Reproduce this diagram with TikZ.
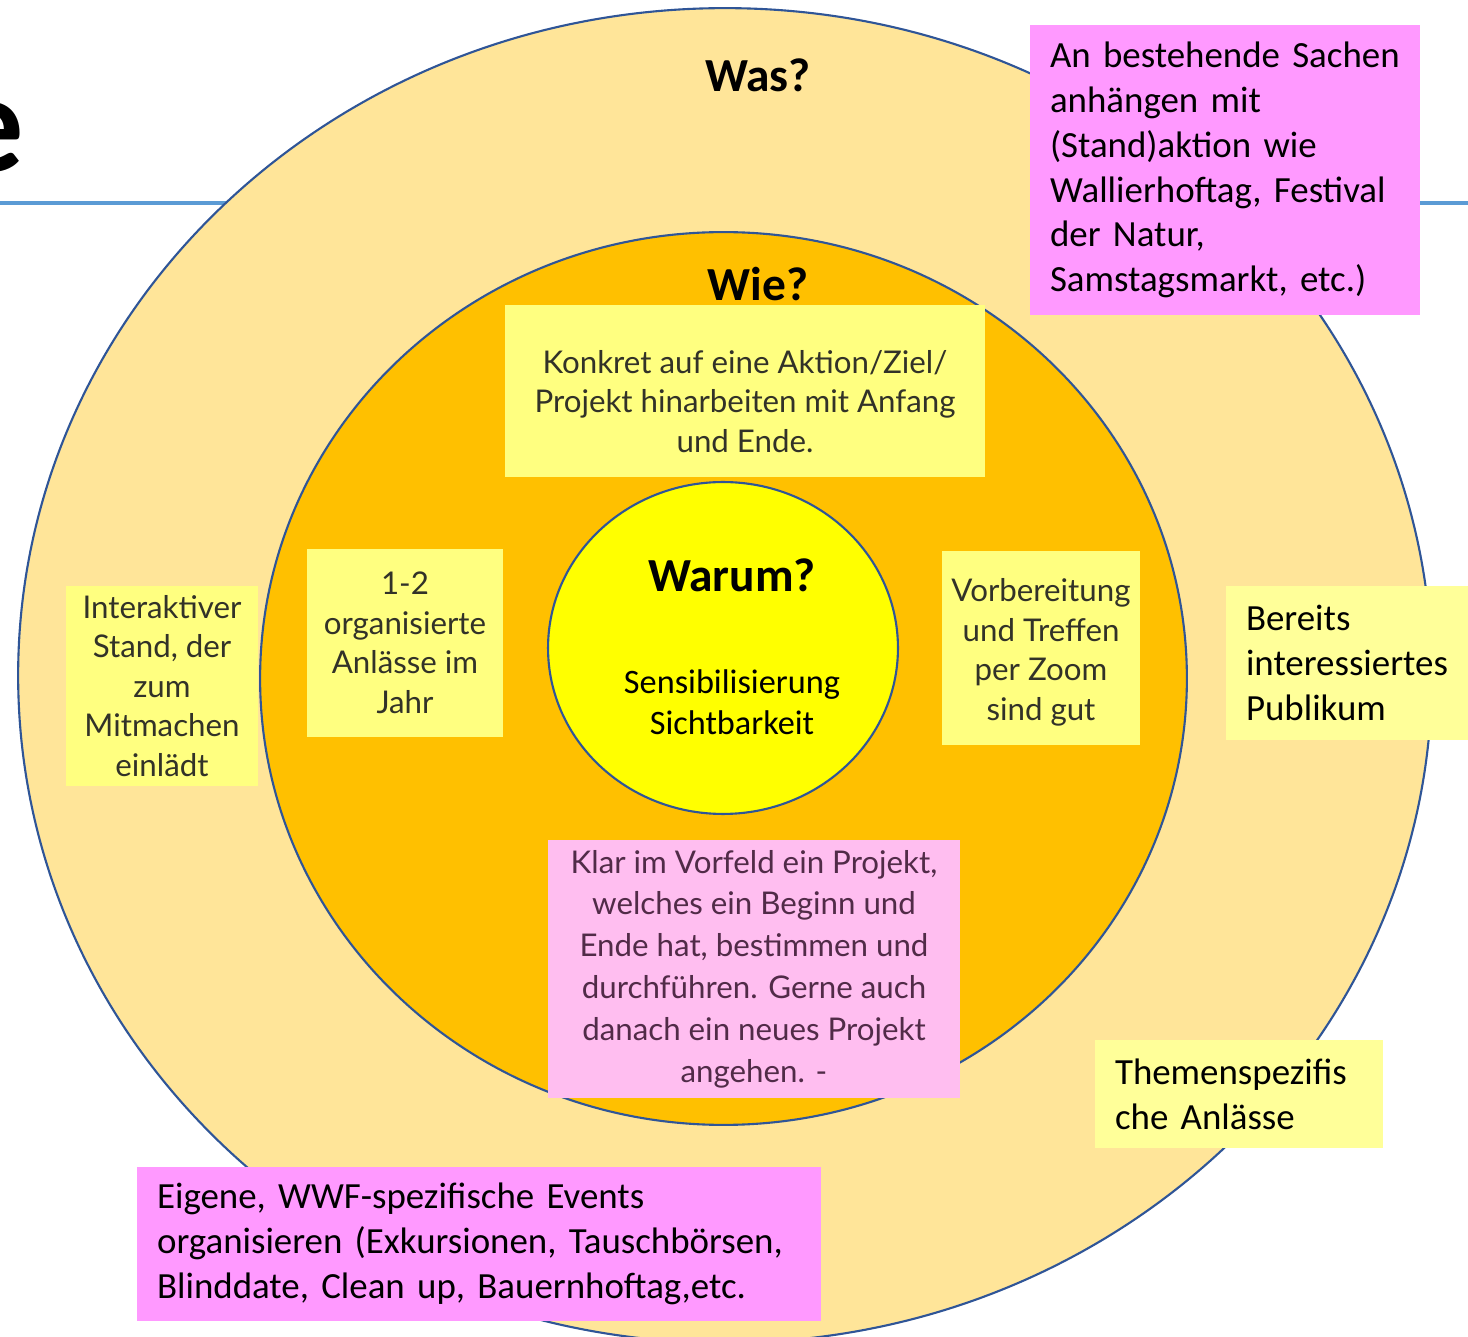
\documentclass[tikz,border=0pt]{standalone}
\usepackage{fontspec}
\setmainfont{Carlito}
\newfontfamily\stickyfont{Lato}
\definecolor{ringline}{RGB}{47,85,151}
\definecolor{outerfill}{RGB}{255,229,153}
\definecolor{middlefill}{RGB}{255,192,0}
\definecolor{innerfill}{RGB}{255,255,0}
\definecolor{titleline}{RGB}{91,155,213}
\definecolor{notepink}{RGB}{255,153,255}
\definecolor{noteyellow}{RGB}{255,255,153}
\definecolor{stickyyellow}{RGB}{255,255,128}
\definecolor{stickypink}{RGB}{255,190,240}
\definecolor{stickyink}{RGB}{50,50,40}
\tikzset{
  ring/.style={draw=ringline, line width=1.2pt},
  question/.style={inner sep=0pt, font=\fontsize{27}{32}\selectfont\bfseries},
  notebox/.style={inner xsep=0.4cm, inner ysep=0pt, align=left,
    font=\fontsize{21}{25.5}\selectfont},
  stickynote/.style={fill=stickyyellow, inner sep=0pt, align=center,
    text=stickyink, font=\stickyfont\fontsize{17.8}{22.5}\selectfont},
}
\begin{document}
\begin{tikzpicture}[x=0.02cm, y=-0.02cm]
  \useasboundingbox (0,0) rectangle (1468,1337);
  % title rest and rule
  \node[anchor=base east, inner sep=0pt, font=\fontsize{80}{90}\selectfont\bfseries] (title) at (25,172) {e};
  \draw[titleline, line width=2.8pt] (0,203) -- (1468,203);
  % rings
  \draw[ring, fill=outerfill] (725,675.5) ellipse [x radius=14.14cm, y radius=13.35cm];
  \draw[ring, fill=middlefill] (723.5,678.5) ellipse [x radius=9.27cm, y radius=8.93cm];
  \draw[ring, fill=innerfill] (723,648) ellipse [x radius=3.5cm, y radius=3.32cm];
  \node[question] (was) at (758,75) {Was?};
  \node[question] (wie) at (758,284) {Wie?};
  \node[question] (warum) at (732,575) {Warum?};
  \node[inner sep=0pt, align=center, font=\fontsize{19.5}{23.2}\selectfont] (ziel) at (732,702)
    {Sensibilisierung\\Sichtbarkeit};
  % sticky notes
  \node[stickynote, minimum width=9.62cm, minimum height=3.44cm] (konkret) at (745,391)
    {\rule{0pt}{25pt}Konkret auf eine Aktion/Ziel/\\Projekt hinarbeiten mit Anfang\\und Ende.};
  \node[stickynote, minimum width=3.94cm, minimum height=3.76cm] (anlaesse) at (405,643)
    {1-2\\organisierte\\Anlässe im\\Jahr};
  \node[stickynote, minimum width=3.98cm, minimum height=3.88cm] (zoom) at (1041,648)
    {\rule{0pt}{18pt}Vorbereitung\\und Treffen\\per Zoom\\sind gut};
  \node[stickynote, minimum width=3.84cm, minimum height=4cm] (stand) at (162,686)
    {Interaktiver\\Stand, der\\zum\\Mitmachen\\einlädt};
  \node[stickynote, fill=stickypink, text=stickyink!85!magenta, minimum width=8.26cm, minimum height=5.16cm,
    font=\stickyfont\fontsize{17.8}{23.8}\selectfont] (projekt) at (754,969)
    {Klar im Vorfeld ein Projekt,\\welches ein Beginn und\\Ende hat, bestimmen und\\durchführen. Gerne auch\\danach ein neues Projekt\\angehen. -};
  % text boxes
  \node[notebox, fill=notepink, text width=7cm, minimum height=5.8cm] (sachen) at (1225,170)
    {An bestehende Sachen\\anhängen mit\\(Stand)aktion wie\\Wallierhoftag, Festival\\der Natur,\\Samstagsmarkt, etc.)};
  \node[notebox, fill=noteyellow, text width=4.2cm, minimum height=3.08cm] (publikum) at (1351,663)
    {Bereits\\interessiertes\\Publikum};
  \node[notebox, fill=noteyellow, text width=4.96cm, minimum height=2.16cm] (themen) at (1239,1094)
    {Themenspezifis\\che Anlässe};
  \node[notebox, fill=notepink, text width=12.88cm, minimum height=3.08cm] (events) at (479,1244)
    {Eigene, WWF-spezifische Events\\organisieren (Exkursionen, Tauschbörsen,\\Blinddate, Clean up, Bauernhoftag,etc.};
\end{tikzpicture}
\end{document}
